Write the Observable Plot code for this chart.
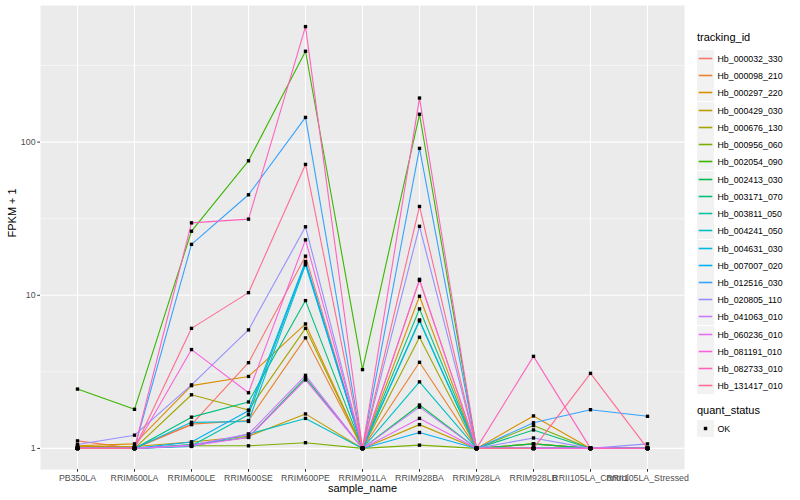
<!DOCTYPE html>
<html>
<head>
<meta charset="utf-8">
<script src="https://cdn.jsdelivr.net/npm/d3@7"></script>
<script src="https://cdn.jsdelivr.net/npm/@observablehq/plot@0.6"></script>
<style>
  body { margin: 0; background: #fff; font-family: "Liberation Sans", Arial, sans-serif; }
  #wrap { position: relative; width: 800px; height: 500px; }
  #chart { position: absolute; left: 0; top: 0; }
  .legend { position: absolute; left: 697px; top: 0; font-size: 8.8px; color: #000; }
  .ltitle { font-size: 11px; position: absolute; white-space: nowrap; }
  .item { position: absolute; height: 17px; display: flex; align-items: center; white-space: nowrap; }
  .item svg { margin-right: 3.5px; display: block; }
</style>
</head>
<body>
<div id="wrap"><div id="chart"></div><div class="legend" id="legend"></div></div>
<script>
const samples = ["PB350LA","RRIM600LA","RRIM600LE","RRIM600SE","RRIM600PE","RRIM901LA","RRIM928BA","RRIM928LA","RRIM928LB","RRII105LA_Control","RRII105LA_Stressed"];

const ids = ["Hb_000032_330","Hb_000098_210","Hb_000297_220","Hb_000429_030","Hb_000676_130","Hb_000956_060","Hb_002054_090","Hb_002413_030","Hb_003171_070","Hb_003811_050","Hb_004241_050","Hb_004631_030","Hb_007007_020","Hb_012516_030","Hb_020805_110","Hb_041063_010","Hb_060236_010","Hb_081191_010","Hb_082733_010","Hb_131417_010"];

const colors = ["#F8766D","#EA8331","#D89000","#C09B00","#A3A500","#7CAE00","#39B600","#00BB4E","#00BF7D","#00C1A3","#00BFC4","#00BAE0","#00B0F6","#35A2FF","#9590FF","#C77CFF","#E76BF3","#FA62DB","#FF62BC","#FF6C91"];

// FPKM + 1, one row per tracking_id, columns in sample order
const fpkmPlus1 = [
  [1.12, 1.00, 1.43, 3.63, 18.0, 1.00, 12.5, 1.00, 1.00, 1.00, 1.00],
  [1.00, 1.00, 1.44, 1.52, 5.27, 1.00, 3.65, 1.00, 1.07, 1.00, 1.00],
  [1.04, 1.07, 2.57, 2.95, 6.50, 1.00, 9.85, 1.00, 1.63, 1.00, 1.00],
  [1.03, 1.03, 1.10, 1.20, 1.68, 1.00, 1.43, 1.00, 1.07, 1.00, 1.00],
  [1.00, 1.00, 2.24, 1.78, 6.08, 1.00, 5.32, 1.00, 1.00, 1.00, 1.00],
  [1.00, 1.00, 1.04, 1.04, 1.09, 1.00, 1.05, 1.00, 1.41, 1.00, 1.00],
  [2.44, 1.80, 26.2, 75.5, 392, 3.27, 152, 1.00, 1.00, 1.00, 1.00],
  [1.00, 1.00, 1.06, 1.18, 2.89, 1.00, 1.92, 1.00, 1.07, 1.00, 1.00],
  [1.00, 1.00, 1.60, 2.01, 9.23, 1.00, 8.15, 1.00, 1.32, 1.00, 1.00],
  [1.00, 1.00, 1.04, 1.66, 16.2, 1.00, 6.80, 1.00, 1.00, 1.00, 1.00],
  [1.00, 1.00, 1.03, 1.24, 1.57, 1.00, 2.72, 1.00, 1.00, 1.00, 1.00],
  [1.00, 1.00, 1.48, 1.50, 15.8, 1.00, 6.90, 1.00, 1.00, 1.00, 1.00],
  [1.00, 1.00, 1.10, 1.76, 16.6, 1.00, 1.27, 1.00, 1.00, 1.00, 1.00],
  [1.00, 1.00, 21.5, 45.3, 145, 1.00, 91.0, 1.00, 1.47, 1.79, 1.62],
  [1.06, 1.22, 2.60, 5.94, 28.0, 1.00, 28.2, 1.00, 1.17, 1.00, 1.07],
  [1.00, 1.00, 1.05, 1.24, 3.00, 1.00, 1.86, 1.00, 1.00, 1.00, 1.00],
  [1.00, 1.00, 1.04, 1.18, 2.80, 1.00, 1.57, 1.00, 1.00, 1.00, 1.00],
  [1.00, 1.00, 4.42, 2.31, 23.0, 1.00, 12.7, 1.00, 1.00, 1.00, 1.00],
  [1.00, 1.00, 29.7, 31.4, 568, 1.00, 194, 1.00, 3.99, 1.00, 1.00],
  [1.00, 1.00, 6.08, 10.4, 71.5, 1.00, 38.0, 1.00, 1.00, 3.09, 1.00]
];

const yMajorTicks = [1, 10, 100];
const yMinorTicks = [3.1623, 31.623, 316.23];
const statusLevels = ["OK"];

const rows = [];
ids.forEach((id, i) => samples.forEach((s, j) => rows.push({id, sample: s, value: fpkmPlus1[i][j], status: "OK"})));

// ggplot-like 5% expansion in log space
const lmax = Math.log10(d3.max(rows, d => d.value));
const lmin = Math.log10(d3.min(rows, d => d.value));
const ex = (lmax - lmin) * 0.05;
const yDomain = [Math.pow(10, lmin - ex), Math.pow(10, lmax + ex)];

const font = '"Liberation Sans", Arial, sans-serif';
const plot = Plot.plot({
  width: 690, height: 500,
  marginLeft: 40, marginRight: 6, marginTop: 5, marginBottom: 31,
  style: {fontFamily: font, fontSize: "8.8px", background: "transparent"},
  x: {type: "point", domain: samples, padding: 0.6, label: null},
  y: {type: "log", domain: yDomain, label: null},
  color: {domain: ids, range: colors},
  marks: [
    Plot.frame({fill: "#EBEBEB", stroke: null}),
    Plot.ruleY(yMinorTicks, {stroke: "white", strokeWidth: 0.55}),
    Plot.ruleY(yMajorTicks, {stroke: "white", strokeWidth: 1.1}),
    Plot.ruleX(samples, {x: d => d, stroke: "white", strokeWidth: 1.1}),
    Plot.line(rows, {x: "sample", y: "value", z: "id", stroke: "id", strokeWidth: 1.1}),
    Plot.dot(rows, {x: "sample", y: "value", symbol: "square", r: 1.9, fill: "black", stroke: null}),
    Plot.axisX({tickSize: 2.75, tickPadding: 2.2, stroke: "#333333", fill: "#4D4D4D", label: null}),
    Plot.axisY({ticks: yMajorTicks, tickFormat: d => String(d), tickSize: 2.75, tickPadding: 2.2, stroke: "#333333", fill: "#4D4D4D", label: null}),
    Plot.text(["sample_name"], {frameAnchor: "bottom", dy: 22, text: d => d, fontSize: 11, fill: "black"}),
    Plot.text(["FPKM + 1"], {frameAnchor: "left", dx: -28, rotate: -90, text: d => d, fontSize: 11, fill: "black"})
  ]
});
document.getElementById("chart").appendChild(plot);

// legend
const lg = document.getElementById("legend");
const t1 = document.createElement("div");
t1.className = "ltitle"; t1.textContent = "tracking_id"; t1.style.top = "31px";
lg.appendChild(t1);
ids.forEach((id, i) => {
  const it = document.createElement("div");
  it.className = "item";
  it.style.top = Math.round(50 + i * 17.23) + "px";
  it.innerHTML = `<svg width="17" height="17"><rect width="17" height="17" fill="#F2F2F2"/><line x1="1.7" x2="15.3" y1="8.5" y2="8.5" stroke="${colors[i]}" stroke-width="1.6"/></svg><span>${id}</span>`;
  lg.appendChild(it);
});
const t2 = document.createElement("div");
t2.className = "ltitle"; t2.textContent = "quant_status"; t2.style.top = "404px";
lg.appendChild(t2);
statusLevels.forEach((s, i) => {
  const it = document.createElement("div");
  it.className = "item";
  it.style.top = Math.round(420 + i * 17.23) + "px";
  it.innerHTML = `<svg width="17" height="17"><rect width="17" height="17" fill="#F2F2F2"/><rect x="6.8" y="6.8" width="3.4" height="3.4" fill="black"/></svg><span>${s}</span>`;
  lg.appendChild(it);
});
</script>
</body>
</html>
